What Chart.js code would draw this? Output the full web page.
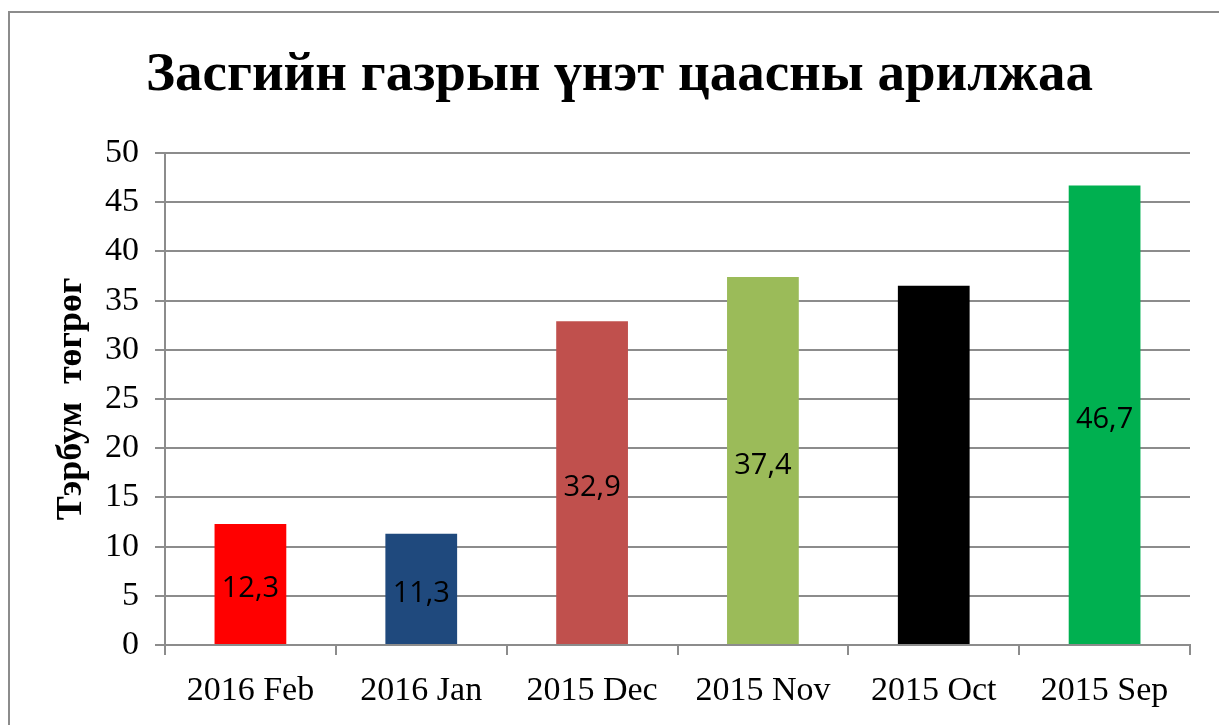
<!DOCTYPE html>
<html>
<head>
<meta charset="utf-8">
<script src="https://cdn.jsdelivr.net/npm/chart.js@4/dist/chart.umd.min.js"></script>
<style>
	html, body { margin: 0; padding: 0; background: #fff; }
	#wrap { width: 1219px; height: 725px; }
</style>
</head>
<body>
<div id="wrap"><canvas id="chart-bonds"></canvas></div>
<script>
const MONTHS = ["2016 Feb", "2016 Jan", "2015 Dec", "2015 Nov", "2015 Oct", "2015 Sep"];
const VOLUMES = [12.3, 11.3, 32.9, 37.4, 36.5, 46.7];
const BAR_COLORS = ["#ff0000", "#1f497d", "#c0504d", "#9bbb59", "#000000", "#00b050"];
const Y_TICKS = [0, 5, 10, 15, 20, 25, 30, 35, 40, 45, 50];

const GRID = "#8c8c8c";
const SERIF = "'Liberation Serif', 'Times New Roman', serif";

// outer frame, cropped at right and bottom like the original
const framePlugin = {
	id: "frame",
	beforeDraw(chart) {
		const ctx = chart.ctx;
		ctx.save();
		ctx.fillStyle = "#fff";
		ctx.fillRect(0, 0, chart.width, chart.height);
		ctx.strokeStyle = GRID;
		ctx.lineWidth = 2;
		ctx.strokeRect(9, 12, chart.width + 50, chart.height + 50);
		ctx.restore();
	},
};

// value labels in the middle of each bar
const valueLabels = {
	id: "valueLabels",
	afterDatasetsDraw(chart) {
		const ctx = chart.ctx;
		const meta = chart.getDatasetMeta(0);
		ctx.save();
		ctx.font = "29px 'Open Sans', 'Liberation Sans', sans-serif";
		ctx.fillStyle = "#000";
		ctx.textAlign = "center";
		ctx.textBaseline = "middle";
		meta.data.forEach((bar, i) => {
			const y = (bar.y + bar.base) / 2 + 5;
			ctx.fillText(VOLUMES[i].toFixed(1).replace(".", ","), bar.x, y);
		});
		ctx.restore();
	},
};

new Chart(document.getElementById("chart-bonds"), {
	type: "bar",
	data: {
		labels: MONTHS,
		datasets: [
			{
				label: "Тэрбум төгрөг",
				data: VOLUMES,
				backgroundColor: BAR_COLORS,
				borderWidth: 0,
				categoryPercentage: 1,
				barPercentage: 0.42,
			},
		],
	},
	options: {
		responsive: true,
		maintainAspectRatio: false,
		animation: false,
		layout: {
			padding: { left: 49, right: 29, top: 0, bottom: 0 },
		},
		plugins: {
			legend: { display: false },
			tooltip: { enabled: false },
			title: {
				display: true,
				text: "Засгийн газрын үнэт цаасны арилжаа",
				color: "#000",
				font: { family: SERIF, size: 55, weight: "bold", lineHeight: 1.2 },
				padding: { top: 43, bottom: 44 },
			},
		},
		scales: {
			x: {
				offset: true,
				border: { display: true, color: GRID, width: 2 },
				grid: {
					offset: true,
					drawOnChartArea: false,
					drawTicks: true,
					tickLength: 10,
					color: GRID,
					lineWidth: 2,
				},
				ticks: {
					color: "#000",
					font: { family: SERIF, size: 34 },
					padding: 16,
					maxRotation: 0,
					autoSkip: false,
				},
				afterFit: (scale) => {
					scale.height = 80;
				},
			},
			y: {
				min: 0,
				max: 50,
				afterBuildTicks: (scale) => {
					scale.ticks = Y_TICKS.map((v) => ({ value: v }));
				},
				border: { display: true, color: GRID, width: 2 },
				grid: {
					color: GRID,
					lineWidth: 2,
					tickLength: 10,
				},
				ticks: {
					color: "#000",
					font: { family: SERIF, size: 34 },
					padding: 16,
				},
				title: {
					display: true,
					text: "Тэрбум  төгрөг",
					color: "#000",
					font: { family: SERIF, size: 36, weight: "bold", lineHeight: 1.2 },
					padding: { top: 1, bottom: 0 },
				},
				afterFit: (scale) => {
					scale.width = 116;
				},
			},
		},
	},
	plugins: [framePlugin, valueLabels],
});
</script>
</body>
</html>
